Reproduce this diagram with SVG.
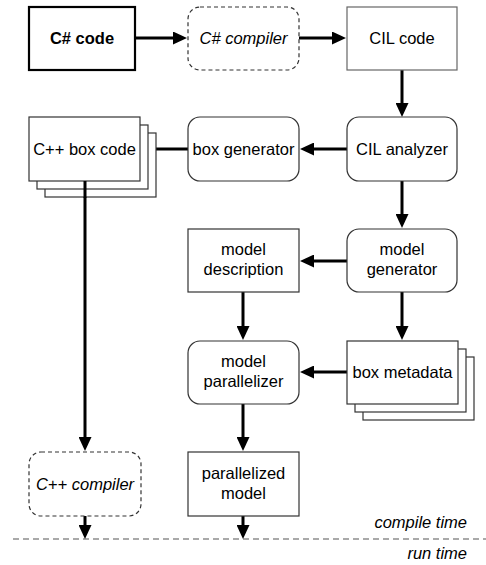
<svg xmlns="http://www.w3.org/2000/svg" width="486" height="565" viewBox="0 0 486 565">
  <style>
    text { font-family: "Liberation Sans", Arial, sans-serif; font-size: 16.5px; fill: #000; text-anchor: middle; }
    .bold { font-weight: bold; }
    .it { font-style: italic; }
    .box { fill: #fff; stroke: #333; stroke-width: 1.2; }
    .thick { stroke: #000; stroke-width: 2.2; }
    .light { stroke: #666; }
    .dash { fill: #fff; stroke: #333; stroke-width: 1.2; stroke-dasharray: 4 3; }
    .conn { stroke: #000; stroke-width: 3; fill: none; marker-end: url(#head); }
    .label { text-anchor: end; }
  </style>
  <defs>
    <marker id="head" markerUnits="userSpaceOnUse" markerWidth="14" markerHeight="13" refX="6" refY="6.5" orient="auto">
      <path d="M0,0 L14,6.5 L0,13 z" fill="#000"/>
    </marker>
  </defs>

  <!-- compile time / run time separator -->
  <line x1="13" y1="539" x2="486" y2="539" stroke="#555" stroke-width="1.2" stroke-dasharray="6 4"/>
  <text class="it label" x="467" y="528">compile time</text>
  <text class="it label" x="467" y="559">run time</text>

  <g id="connectors">
    <line class="conn" x1="136" y1="38" x2="179" y2="38"/>
    <line class="conn" x1="299" y1="38" x2="338" y2="38"/>
    <line class="conn" x1="402" y1="70" x2="402" y2="109"/>
    <line class="conn" x1="347" y1="149" x2="308" y2="149"/>
    <line class="conn" x1="188" y1="149" x2="149" y2="149"/>
    <line class="conn" x1="402" y1="181" x2="402" y2="220"/>
    <line class="conn" x1="347" y1="261" x2="308" y2="261"/>
    <line class="conn" x1="243" y1="292" x2="243" y2="332"/>
    <line class="conn" x1="402" y1="292" x2="402" y2="332"/>
    <line class="conn" x1="347" y1="372" x2="308" y2="372"/>
    <line class="conn" x1="85" y1="181" x2="85" y2="443"/>
    <line class="conn" x1="243" y1="404" x2="243" y2="443"/>
    <line class="conn" x1="85" y1="516" x2="85" y2="531"/>
    <line class="conn" x1="243" y1="516" x2="243" y2="531"/>
  </g>

  <g id="csharp-code">
    <rect class="box thick" x="29" y="7" width="106" height="63"/>
    <text class="bold" x="82" y="44">C# code</text>
  </g>
  <g id="csharp-compiler">
    <rect class="dash" x="188" y="7" width="111" height="63" rx="12"/>
    <text class="it" x="243.5" y="44">C# compiler</text>
  </g>
  <g id="cil-code">
    <rect class="box light" x="347" y="7" width="110" height="63"/>
    <text x="402" y="44">CIL code</text>
  </g>

  <g id="cpp-box-code">
    <rect class="box" x="45" y="133" width="111" height="64"/>
    <rect class="box" x="37" y="125" width="111" height="64"/>
    <rect class="box" x="29" y="117" width="111" height="64"/>
    <line x1="85" y1="181" x2="85" y2="198" stroke="#000" stroke-width="3"/>
    <text x="84.5" y="155">C++ box code</text>
  </g>
  <g id="box-generator">
    <rect class="box" x="188" y="117" width="111" height="64" rx="12"/>
    <text x="243.5" y="155">box generator</text>
  </g>
  <g id="cil-analyzer">
    <rect class="box" x="347" y="117" width="110" height="64" rx="12"/>
    <text x="402" y="155">CIL analyzer</text>
  </g>

  <g id="model-description">
    <rect class="box" x="188" y="229" width="111" height="63"/>
    <text x="243.5" y="255">model</text>
    <text x="243.5" y="275">description</text>
  </g>
  <g id="model-generator">
    <rect class="box" x="347" y="229" width="110" height="63" rx="12"/>
    <text x="402" y="255">model</text>
    <text x="402" y="275">generator</text>
  </g>

  <g id="model-parallelizer">
    <rect class="box" x="188" y="341" width="111" height="63" rx="12"/>
    <text x="243.5" y="367">model</text>
    <text x="243.5" y="387">parallelizer</text>
  </g>
  <g id="box-metadata">
    <rect class="box" x="363" y="357" width="111" height="63"/>
    <rect class="box" x="355" y="349" width="111" height="63"/>
    <rect class="box" x="347" y="341" width="111" height="63"/>
    <text x="402.5" y="378">box metadata</text>
  </g>

  <g id="cpp-compiler">
    <rect class="dash" x="29" y="452" width="112" height="64" rx="12"/>
    <text class="it" x="85" y="490">C++ compiler</text>
  </g>
  <g id="parallelized-model">
    <rect class="box" x="188" y="452" width="111" height="64"/>
    <text x="243.5" y="479">parallelized</text>
    <text x="243.5" y="499">model</text>
  </g>
</svg>
